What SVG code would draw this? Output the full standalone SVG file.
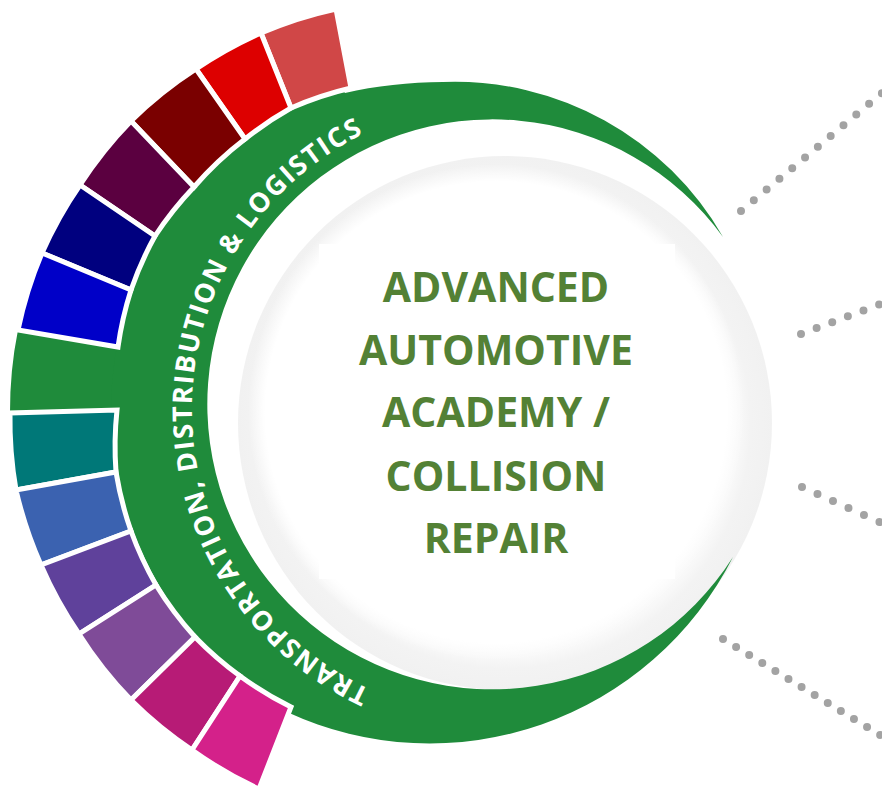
<svg xmlns="http://www.w3.org/2000/svg" width="882" height="790" viewBox="0 0 882 790">
<defs>
<style>
.seg{stroke:#ffffff;stroke-width:5;stroke-linejoin:miter}
.ringtxt{font-family:"Open Sans","Liberation Sans",sans-serif;font-weight:700;font-size:27px;fill:#ffffff}
.title{font-family:"Open Sans","Liberation Sans",sans-serif;font-weight:700;font-size:41px;fill:#538135;text-anchor:middle}
.dots{stroke:#a3a3a3;stroke-width:8;stroke-linecap:round;fill:none}
</style>
<radialGradient id="shade" cx="505" cy="423" r="267" gradientUnits="userSpaceOnUse">
<stop offset="0" stop-color="#ffffff"/>
<stop offset="0.75" stop-color="#ffffff"/>
<stop offset="0.88" stop-color="#f8f8f8"/>
<stop offset="0.92" stop-color="#f3f3f3"/>
<stop offset="1" stop-color="#f1f1f1"/>
</radialGradient>
<radialGradient id="inner" cx="496" cy="412" r="248" gradientUnits="userSpaceOnUse">
<stop offset="0" stop-color="#ffffff" stop-opacity="1"/>
<stop offset="0.93" stop-color="#ffffff" stop-opacity="1"/>
<stop offset="1" stop-color="#ffffff" stop-opacity="0"/>
</radialGradient>
<path id="textArc" d="M370.3,689.4 A308,308 0 0 1 368.4,131.5"/>
</defs>
<rect width="882" height="790" fill="#ffffff"/>

<g id="center-circle">
<circle cx="505" cy="423" r="267" fill="url(#shade)"/>
<circle cx="496" cy="412" r="248" fill="url(#inner)"/>
</g>

<g id="ring">
<path d="M18,330 A409,409 0 0 0 10,413 L140,411 L140,349 L118,347 Z" fill="#1f8b3b"/>
<path d="M723,237 A309,309 0 0 0 443,82 C410,82 375,86 345,93 L338.3,81.9 A349,349 0 0 0 287.5,712.3 A340,340 0 0 0 733,557 A285,285 0 1 1 723,237 Z" fill="#1f8b3b"/>
<text class="ringtxt"><textPath href="#textArc" textLength="692">TRANSPORTATION, DISTRIBUTION &amp; LOGISTICS</textPath></text>
</g>

<g id="segments">
<path id="seg1" class="seg" fill="#d04747" d="M336,9 A409,409 0 0 0 261,33 L291,108 A345,345 0 0 1 351,88 Z"/>
<path id="seg2" class="seg" fill="#dd0000" d="M261,33 A409,409 0 0 0 196,69 L245,139 A345,345 0 0 1 291,108 Z"/>
<path id="seg3" class="seg" fill="#7a0000" d="M196,69 A409,409 0 0 0 131,121 L194,187 A345,345 0 0 1 245,139 Z"/>
<path id="seg4" class="seg" fill="#5b0040" d="M131,121 A409,409 0 0 0 80,185 L155,236 A345,345 0 0 1 194,187 Z"/>
<path id="seg5" class="seg" fill="#00007f" d="M80,185 A409,409 0 0 0 42,253 L131,290 A345,345 0 0 1 155,236 Z"/>
<path id="seg6" class="seg" fill="#0000c8" d="M42,253 A409,409 0 0 0 18,330 L118,347 A345,345 0 0 1 131,290 Z"/>
<path id="seg7" class="seg" fill="#007878" d="M10,413 A409,409 0 0 0 16,490 L116,472 A345,345 0 0 1 117,410 Z"/>
<path id="seg8" class="seg" fill="#3b62b0" d="M16,490 A409,409 0 0 0 41,565 L131,531 A345,345 0 0 1 116,472 Z"/>
<path id="seg9" class="seg" fill="#5f419b" d="M41,565 A409,409 0 0 0 79,634 L156,585 A345,345 0 0 1 131,531 Z"/>
<path id="seg10" class="seg" fill="#7f4b98" d="M79,634 A409,409 0 0 0 131,700 L195,637 A345,345 0 0 1 156,585 Z"/>
<path id="seg11" class="seg" fill="#b71b76" d="M131,700 A409,409 0 0 0 192,750 L240,676 A345,345 0 0 1 195,637 Z"/>
<path id="seg12" class="seg" fill="#d4218a" d="M192,750 A409,409 0 0 0 259,789 L291,707 A345,345 0 0 1 240,676 Z"/>
</g>

<g id="center-node">
<rect x="319" y="244" width="356" height="335" fill="#ffffff"/>
<text class="title" x="496" y="302">ADVANCED</text>
<text class="title" x="496" y="365">AUTOMOTIVE</text>
<text class="title" x="496" y="427">ACADEMY /</text>
<text class="title" x="496" y="491">COLLISION</text>
<text class="title" x="496" y="553">REPAIR</text>
</g>

<g id="connectors">
<line class="dots" x1="741" y1="211" x2="900" y2="78" stroke-dasharray="0 16.7"/>
<line class="dots" x1="801" y1="334" x2="900" y2="296.6" stroke-dasharray="0 16.7"/>
<line class="dots" x1="802" y1="487" x2="900" y2="531.3" stroke-dasharray="0 17"/>
<line class="dots" x1="723" y1="639" x2="900" y2="747" stroke-dasharray="0 15.34"/>
</g>
</svg>
